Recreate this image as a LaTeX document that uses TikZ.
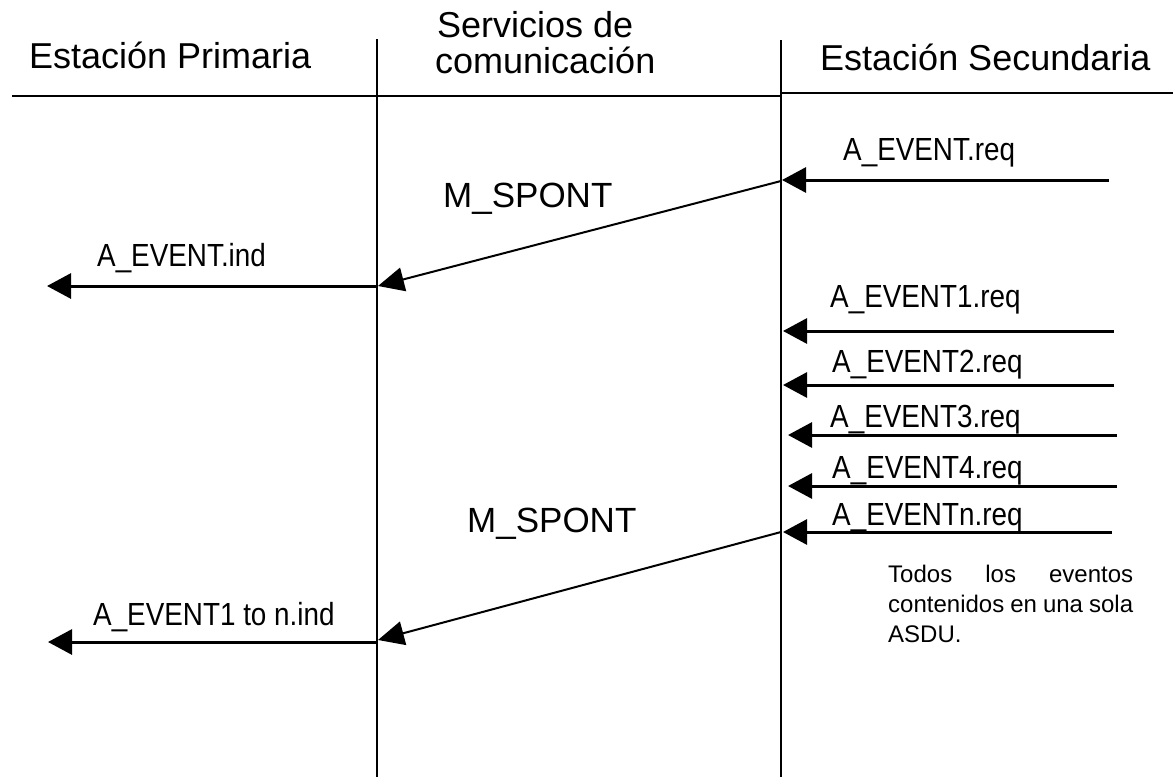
\documentclass[tikz,border=0pt]{standalone}
\usepackage{fontspec}
\setmainfont{Liberation Sans}
\newfontfamily\lblfont{Liberation Sans}[FakeStretch=0.87]
\usetikzlibrary{arrows.meta}
\begin{document}
\begin{tikzpicture}[x=1pt,y=-1pt,
  hdr/.style={inner sep=0pt, anchor=base west, font=\fontsize{36}{43}\selectfont},
  msg/.style={inner sep=0pt, anchor=base west, font=\fontsize{35}{42}\selectfont},
  lbl/.style={inner sep=0pt, anchor=base west, font=\lblfont\fontsize{32}{38}\selectfont},
  note/.style={inner sep=0pt, anchor=base west, font=\fontsize{24}{30}\selectfont},
  lifeline/.style={line width=1.5pt},
  rule/.style={line width=2pt},
  harrow/.style={line width=3pt, -{Triangle[length=24pt,width=25pt]}},
  darrow/.style={line width=2pt, -{Triangle[length=26pt,width=24pt]}}]
\useasboundingbox (0,0) rectangle (1173,777);
\fill[white] (0,0) rectangle (1173,777);

% lifelines
\coordinate (l1top) at (377,39);
\coordinate (l1bot) at (377,777);
\coordinate (l2top) at (781,40);
\coordinate (l2bot) at (781,777);
\draw[lifeline] (l1top) -- (l1bot);
\draw[lifeline] (l2top) -- (l2bot);

% header rules
\coordinate (h1a) at (12,96);
\coordinate (h1b) at (781,96);
\coordinate (h2a) at (781,93);
\coordinate (h2b) at (1173,93);
\draw[rule] (h1a) -- (h1b);
\draw[rule] (h2a) -- (h2b);

% headers
\node[hdr] (hprim) at (29,68) {Estación Primaria};
\node[hdr] (hserv1) at (437,37) {Servicios de};
\node[hdr] (hserv2) at (435,73) {comunicación};
\node[hdr] (hsec) at (820,70) {Estación Secundaria};

% first exchange
\coordinate (r0s) at (1109,180);
\coordinate (r0e) at (782,180);
\draw[harrow] (r0s) -- (r0e);
\node[lbl] (lr0) at (843,160) {A\_EVENT.req};

\coordinate (d1s) at (781,181);
\coordinate (d1e) at (378,286);
\draw[darrow] (d1s) -- (d1e);
\node[msg] (m1) at (443,207) {M\_SPONT};

\coordinate (i1s) at (377,286);
\coordinate (i1e) at (47,286);
\draw[harrow] (i1s) -- (i1e);
\node[lbl] (li1) at (97,266) {A\_EVENT.ind};

% second exchange
\coordinate (r1s) at (1114,331);
\coordinate (r1e) at (783,331);
\draw[harrow] (r1s) -- (r1e);
\node[lbl] (lr1) at (830,307) {A\_EVENT1.req};

\coordinate (r2s) at (1114,385);
\coordinate (r2e) at (783,385);
\draw[harrow] (r2s) -- (r2e);
\node[lbl] (lr2) at (832,372) {A\_EVENT2.req};

\coordinate (r3s) at (1117,435);
\coordinate (r3e) at (788,435);
\draw[harrow] (r3s) -- (r3e);
\node[lbl] (lr3) at (830,427) {A\_EVENT3.req};

\coordinate (r4s) at (1117,486);
\coordinate (r4e) at (788,486);
\draw[harrow] (r4s) -- (r4e);
\node[lbl] (lr4) at (832,478) {A\_EVENT4.req};

\coordinate (rns) at (1112,532);
\coordinate (rne) at (783,532);
\draw[harrow] (rns) -- (rne);
\node[lbl] (lrn) at (832,525) {A\_EVENTn.req};

\coordinate (d2s) at (781,532);
\coordinate (d2e) at (378,640);
\draw[darrow] (d2s) -- (d2e);
\node[msg] (m2) at (467,532) {M\_SPONT};

\coordinate (i2s) at (377,642);
\coordinate (i2e) at (48,642);
\draw[harrow] (i2s) -- (i2e);
\node[lbl] (li2) at (93,625) {A\_EVENT1 to n.ind};

% note
\node[note] (n1) at (888,582) {\makebox[245pt][s]{Todos los eventos}};
\node[note] (n2) at (888,612) {\makebox[245pt][s]{contenidos en una sola}};
\node[note] (n3) at (888,642) {ASDU.};
\end{tikzpicture}
\end{document}
